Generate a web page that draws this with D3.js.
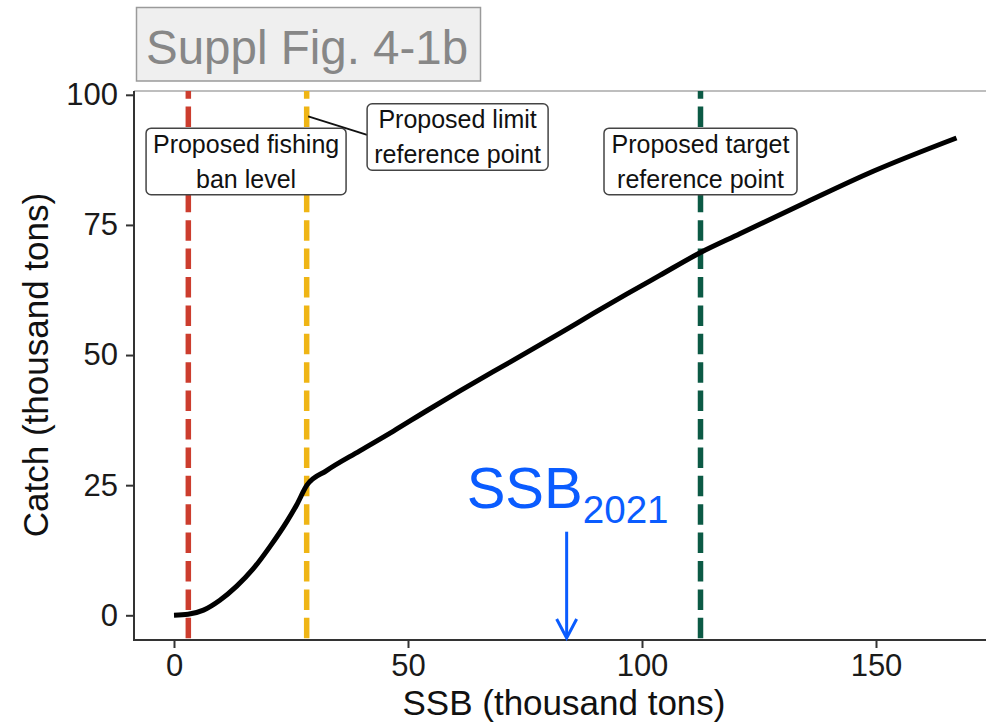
<!DOCTYPE html>
<html>
<head>
<meta charset="utf-8">
<script src="https://cdn.jsdelivr.net/npm/d3@7"></script>
<style>
  body { margin: 0; background: #fff; }
  svg { display: block; font-family: "Liberation Sans", Arial, sans-serif; }
</style>
</head>
<body>
<script>
// harvest control rule: catch vs spawning stock biomass (thousand tons)
var ssb   = [0, 3, 6.3, 9.8, 13.4, 16.9, 20.5, 24.1, 26.2, 28.4, 32.6, 39.7, 46.9, 54, 61.1, 68.2,
             75.4, 82.5, 89.6, 96.7, 103.8, 112.5, 120.9, 135.2, 149.4, 167.2];
var catchT = [0, 0.2, 1.0, 2.9, 5.6, 8.9, 13.2, 18.0, 21.2, 25.0, 27.8, 31.6, 35.4, 39.3, 43.1, 46.8,
             50.5, 54.2, 58.0, 61.7, 65.3, 69.7, 73.3, 79.4, 85.3, 91.7];

// reference points (SSB)
var refNames  = ["ban", "limit", "target"];
var refValues = [3.06, 28.35, 112.5];
var refColors = ["#cc3d2e", "#efb515", "#0c5a45"];
var refLabels = [["Proposed fishing", "ban level"],
                 ["Proposed limit", "reference point"],
                 ["Proposed target", "reference point"]];
var ssb2021 = 83.9;

var xTicks = [0, 50, 100, 150];
var yTicks = [0, 25, 50, 75, 100];

var W = 986, H = 726;
var panel = {left: 134, right: 986, top: 91, bottom: 640};

var x = d3.scaleLinear().domain([0, 150]).range([174, 876]);
var y = d3.scaleLinear().domain([0, 100]).range([615.3, 94.8]);

var svg = d3.select("body").append("svg")
    .attr("width", W)
    .attr("height", H);

// title box
svg.append("rect")
    .attr("x", 136.5).attr("y", 7.5)
    .attr("width", 344).attr("height", 73.5)
    .attr("fill", "#efefef")
    .attr("stroke", "#9a9a9a")
    .attr("stroke-width", 1.5);
svg.append("text")
    .attr("x", 146).attr("y", 63.5)
    .attr("font-size", 47.5)
    .attr("fill", "#878787")
    .text("Suppl Fig. 4-1b");

// top border line
svg.append("line")
    .attr("x1", panel.left).attr("x2", panel.right)
    .attr("y1", panel.top).attr("y2", panel.top)
    .attr("stroke", "#a8a8a8")
    .attr("stroke-width", 1.5);

// reference lines
var refs = refNames.map(function(n, i) {
  return {name: n, value: refValues[i], color: refColors[i], label: refLabels[i]};
});

svg.selectAll(".refline")
    .data(refs)
  .enter().append("line")
    .attr("class", "refline")
    .attr("x1", function(d) { return x(d.value); })
    .attr("x2", function(d) { return x(d.value); })
    .attr("y1", panel.bottom)
    .attr("y2", panel.top)
    .attr("stroke", function(d) { return d.color; })
    .attr("stroke-width", 5.5)
    .attr("stroke-dasharray", "20.5,7.9")
    .attr("stroke-dashoffset", 26.7);

// curve
var line = d3.line()
    .x(function(d) { return x(d[0]); })
    .y(function(d) { return y(d[1]); })
    .curve(d3.curveMonotoneX);

svg.append("path")
    .datum(ssb.map(function(s, i) { return [s, catchT[i]]; }))
    .attr("fill", "none")
    .attr("stroke", "#000")
    .attr("stroke-width", 5)
    .attr("d", line);

// label boxes (centre in data units)
var labelPos = [[15.4, 87.2], [60.6, 91.9], [112.5, 87.2]];
var boxW = [200, 181, 193], boxH = 66.5;

refs.forEach(function(d, i) {
  var cx = x(labelPos[i][0]), cy = y(labelPos[i][1]);
  var g = svg.append("g");
  if (d.name === "limit") {
    g.append("line")
      .attr("x1", x(d.value) + 1.5).attr("y1", cy - 20.5)
      .attr("x2", cx - boxW[i] / 2).attr("y2", cy - 2)
      .attr("stroke", "#111")
      .attr("stroke-width", 1.8);
  }
  g.append("rect")
    .attr("x", cx - boxW[i] / 2)
    .attr("y", cy - boxH / 2)
    .attr("width", boxW[i])
    .attr("height", boxH)
    .attr("rx", 5).attr("ry", 5)
    .attr("fill", "#fff")
    .attr("stroke", "#444")
    .attr("stroke-width", 1.5);
  g.selectAll("text")
    .data(d.label)
  .enter().append("text")
    .attr("x", cx)
    .attr("y", function(t, j) { return cy - 8.7 + j * 35; })
    .attr("text-anchor", "middle")
    .attr("font-size", 25)
    .attr("fill", "#111")
    .text(function(t) { return t; });
});

// axes
var xAxis = svg.append("g")
    .attr("transform", "translate(0," + panel.bottom + ")")
    .call(d3.axisBottom(x).tickValues(xTicks).tickSize(8).tickPadding(6));
xAxis.select(".domain").remove();
xAxis.append("line")
    .attr("x1", panel.left).attr("x2", panel.right)
    .attr("stroke", "#333").attr("stroke-width", 2);

var yAxis = svg.append("g")
    .attr("transform", "translate(" + panel.left + ",0)")
    .call(d3.axisLeft(y).tickValues(yTicks).tickSize(8).tickPadding(8));
yAxis.select(".domain").remove();
yAxis.append("line")
    .attr("y1", panel.top).attr("y2", panel.bottom + 1)
    .attr("stroke", "#333").attr("stroke-width", 2);

svg.selectAll(".tick line").attr("stroke", "#333").attr("stroke-width", 2);
svg.selectAll(".tick text")
    .attr("font-family", "Liberation Sans, Arial, sans-serif")
    .attr("font-size", 31)
    .attr("fill", "#1a1a1a");

// axis titles
svg.append("text")
    .attr("x", 564).attr("y", 715)
    .attr("text-anchor", "middle")
    .attr("font-size", 35)
    .attr("fill", "#111")
    .text("SSB (thousand tons)");

svg.append("text")
    .attr("transform", "translate(48,365) rotate(-90)")
    .attr("text-anchor", "middle")
    .attr("font-size", 35)
    .attr("fill", "#111")
    .text("Catch (thousand tons)");

// SSB 2021 marker
var blue = "#0a5cff";
var ax = x(ssb2021);
var t = svg.append("text")
    .attr("x", 466.7).attr("y", 508.3)
    .attr("fill", blue)
    .attr("font-size", 58);
t.append("tspan").text("SSB");
t.append("tspan")
    .attr("dy", 14.4)
    .attr("font-size", 38.6)
    .text("2021");

svg.append("line")
    .attr("x1", ax).attr("x2", ax)
    .attr("y1", 531.7).attr("y2", 637)
    .attr("stroke", blue).attr("stroke-width", 3);
svg.append("path")
    .attr("d", "M" + (ax - 10) + ",619 L" + ax + ",638 L" + (ax + 10) + ",619")
    .attr("fill", "none")
    .attr("stroke", blue)
    .attr("stroke-width", 3);
</script>
</body>
</html>
